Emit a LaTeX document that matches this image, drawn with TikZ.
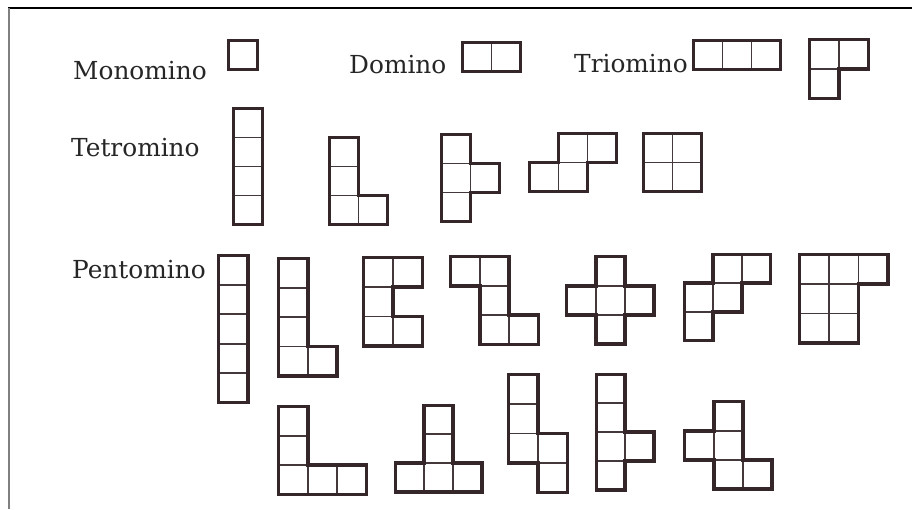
\documentclass[tikz,border=0pt]{standalone}
\usepackage{fontspec}
\setmainfont{DejaVu Serif}
\definecolor{ink}{HTML}{35262A}
\definecolor{inkin}{HTML}{45383A}
\definecolor{txt}{HTML}{262626}
\tikzset{
  inner/.style={draw=inkin, line width=1.7pt},
  outer/.style={draw=ink, line width=3.7pt, line join=miter},
  lbl/.style={anchor=base west, inner sep=0pt, text=txt, font=\fontsize{24.8}{24.8}\selectfont},
}
% #1 x, #2 y (top-left, px), #3 cell size, #4 cells, #5 outline
\newcommand{\pmino}[5]{%
  \begin{scope}[shift={(#1pt,-#2pt)}, x=#3pt, y=-#3pt]
    \foreach \a/\b in {#4} \draw[inner] (\a,\b) rectangle ++(1,1);
    \draw[outer] #5;
  \end{scope}}
\begin{document}
\begin{tikzpicture}[x=1pt,y=-1pt]
\useasboundingbox[fill=white] (0,0) rectangle (912,509);
\draw[black, line width=1.4pt] (8,8) -- (912,8);
\draw[gray, line width=2pt] (8.5,8) -- (8.5,509);

\node[lbl] (mono) at (73,79) {Monomino};
\node[lbl] (dom) at (349,73) {Domino};
\node[lbl] (tri) at (574,72) {Triomino};
\node[lbl] (tet) at (71,156) {Tetromino};
\node[lbl] (pen) at (72,278) {Pentomino};

% monomino, domino, triominoes
\pmino{228.5}{40.5}{29}{0/0}{(0,0) rectangle (1,1)}
\pmino{462.5}{42.5}{29}{0/0,1/0}{(0,0) rectangle (2,1)}
\pmino{693.5}{40.5}{29}{0/0,1/0,2/0}{(0,0) rectangle (3,1)}
\pmino{809.5}{39.5}{29.5}{0/0,1/0,0/1}{(0,0)--(2,0)--(2,1)--(1,1)--(1,2)--(0,2)--cycle}

% tetrominoes
\pmino{233.5}{108.5}{29}{0/0,0/1,0/2,0/3}{(0,0) rectangle (1,4)}
\pmino{329.5}{137.5}{29}{0/0,0/1,0/2,1/2}{(0,0)--(1,0)--(1,2)--(2,2)--(2,3)--(0,3)--cycle}
\pmino{441.5}{134.5}{29}{0/0,0/1,0/2,1/1}{(0,0)--(1,0)--(1,1)--(2,1)--(2,2)--(1,2)--(1,3)--(0,3)--cycle}
\pmino{529.5}{133.5}{29}{1/0,2/0,0/1,1/1}{(1,0)--(3,0)--(3,1)--(2,1)--(2,2)--(0,2)--(0,1)--(1,1)--cycle}
\pmino{643.5}{133.5}{29}{0/0,1/0,0/1,1/1}{(0,0) rectangle (2,2)}

% pentominoes, first row
\pmino{218.5}{255.5}{29.4}{0/0,0/1,0/2,0/3,0/4}{(0,0) rectangle (1,5)}
\pmino{278.5}{258.5}{29.3}{0/0,0/1,0/2,0/3,1/3}{(0,0)--(1,0)--(1,3)--(2,3)--(2,4)--(0,4)--cycle}
\pmino{363.5}{257.5}{29.5}{0/0,1/0,0/1,0/2,1/2}{(0,0)--(2,0)--(2,1)--(1,1)--(1,2)--(2,2)--(2,3)--(0,3)--cycle}
\pmino{450.5}{256.5}{29.3}{0/0,1/0,1/1,1/2,2/2}{(0,0)--(2,0)--(2,2)--(3,2)--(3,3)--(1,3)--(1,1)--(0,1)--cycle}
\pmino{566.5}{256.5}{29.2}{1/0,0/1,1/1,2/1,1/2}{(1,0)--(2,0)--(2,1)--(3,1)--(3,2)--(2,2)--(2,3)--(1,3)--(1,2)--(0,2)--(0,1)--(1,1)--cycle}
\pmino{684.5}{254.5}{28.7}{1/0,2/0,0/1,1/1,0/2}{(1,0)--(3,0)--(3,1)--(2,1)--(2,2)--(1,2)--(1,3)--(0,3)--(0,1)--(1,1)--cycle}
\pmino{799.5}{254.5}{29.5}{0/0,1/0,2/0,0/1,1/1,0/2,1/2}{(0,0)--(3,0)--(3,1)--(2,1)--(2,3)--(0,3)--cycle}

% pentominoes, second row
\pmino{278.5}{406.5}{29.3}{0/0,0/1,0/2,1/2,2/2}{(0,0)--(1,0)--(1,2)--(3,2)--(3,3)--(0,3)--cycle}
\pmino{395.5}{405.5}{28.8}{1/0,1/1,0/2,1/2,2/2}{(1,0)--(2,0)--(2,2)--(3,2)--(3,3)--(0,3)--(0,2)--(1,2)--cycle}
\pmino{508.5}{374.5}{29.5}{0/0,0/1,0/2,1/2,1/3}{(0,0)--(1,0)--(1,2)--(2,2)--(2,4)--(1,4)--(1,3)--(0,3)--cycle}
\pmino{596.5}{374.5}{28.8}{0/0,0/1,0/2,0/3,1/2}{(0,0)--(1,0)--(1,2)--(2,2)--(2,3)--(1,3)--(1,4)--(0,4)--cycle}
\pmino{684.5}{401.5}{29.2}{1/0,0/1,1/1,1/2,2/2}{(1,0)--(2,0)--(2,2)--(3,2)--(3,3)--(1,3)--(1,2)--(0,2)--(0,1)--(1,1)--cycle}
\end{tikzpicture}
\end{document}
